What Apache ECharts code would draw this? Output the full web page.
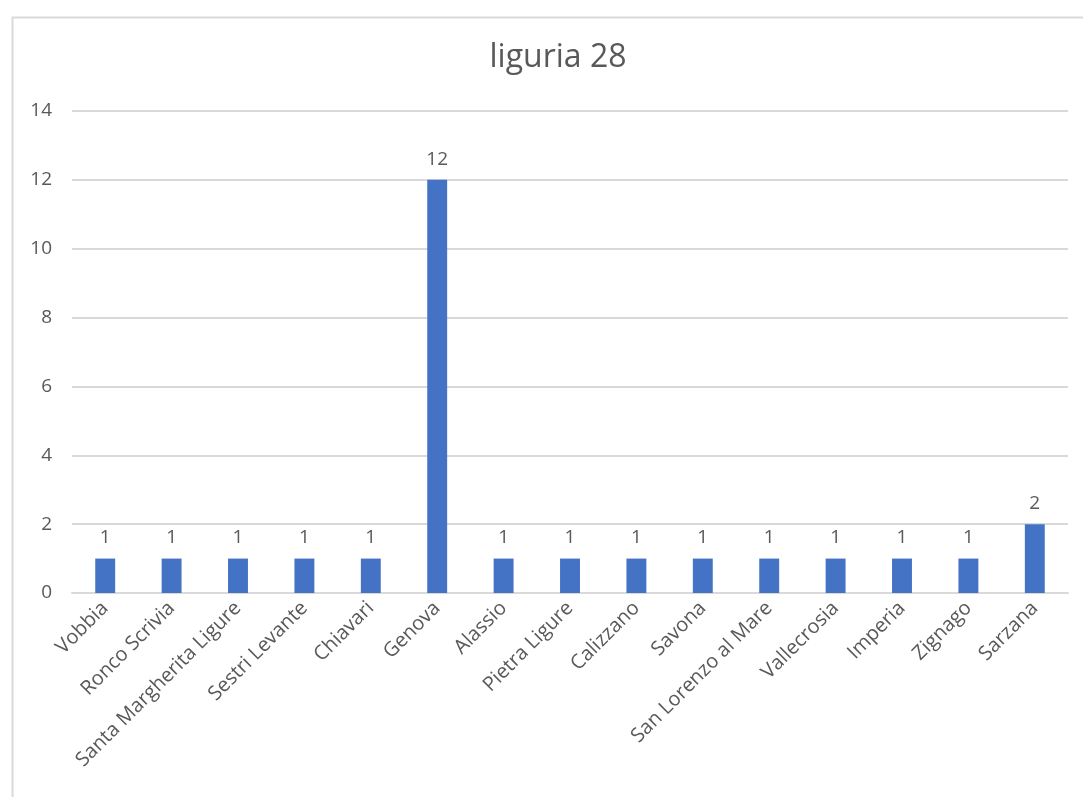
<!DOCTYPE html>
<html lang="it">
<head>
    <meta charset="UTF-8">
    <title>liguria 28</title>
    <style>
        html, body { margin: 0; padding: 0; background: #fff; }
        #chart { width: 1083px; height: 797px; }
    </style>
</head>
<body>
<div id="chart"></div>
<script src="https://cdn.jsdelivr.net/npm/echarts@6/dist/echarts.min.js"></script>
<script type="text/javascript">
    // dati
    var categories = ['Vobbia', 'Ronco Scrivia', 'Santa Margherita Ligure', 'Sestri Levante', 'Chiavari',
        'Genova', 'Alassio', 'Pietra Ligure', 'Calizzano', 'Savona', 'San Lorenzo al Mare',
        'Vallecrosia', 'Imperia', 'Zignago', 'Sarzana'];
    var values = [1, 1, 1, 1, 1, 12, 1, 1, 1, 1, 1, 1, 1, 1, 2];
    var yTicks = [0, 2, 4, 6, 8, 10, 12, 14];

    var textColor = '#595959';
    var font = 'Open Sans, Liberation Sans, sans-serif';

    var myChart = echarts.init(document.getElementById('chart'));
    var option = {
        backgroundColor: '#fff',
        animation: false,
        graphic: [{
            type: 'rect',
            left: 10, top: 15,
            shape: {width: 1100, height: 800},
            style: {fill: 'none', stroke: '#d9d9d9', lineWidth: 2},
            silent: true
        }],
        title: {
            text: 'liguria 28',
            left: 553,
            textAlign: 'center',
            top: 37,
            textStyle: {color: textColor, fontSize: 32, fontWeight: 'normal', fontFamily: font}
        },
        grid: {left: 72, right: 15, top: 111, bottom: 204, containLabel: false},
        xAxis: {
            type: 'category',
            data: categories,
            axisLine: {lineStyle: {color: '#d9d9d9', width: 2}},
            axisTick: {show: false},
            axisLabel: {
                rotate: 45, interval: 0, color: textColor, fontSize: 20, fontFamily: font, margin: 12
            }
        },
        yAxis: {
            type: 'value',
            min: yTicks[0],
            max: yTicks[yTicks.length - 1],
            interval: 2,
            axisLine: {show: false},
            axisTick: {show: false},
            splitLine: {lineStyle: {color: '#d9d9d9', width: 2}},
            axisLabel: {color: textColor, fontSize: 19, fontFamily: font, margin: 20}
        },
        series: [{
            type: 'bar',
            data: values,
            barWidth: '30%',
            itemStyle: {color: '#4472c4'},
            label: {
                show: true, position: 'top', distance: 11,
                color: textColor, fontSize: 19, fontFamily: font
            }
        }]
    };
    myChart.setOption(option);
</script>
</body>
</html>
